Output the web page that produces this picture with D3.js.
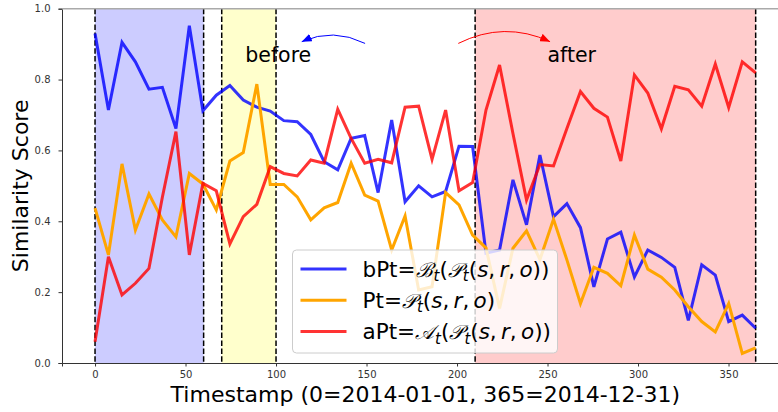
<!DOCTYPE html>
<html>
<head>
<meta charset="utf-8">
<script src="https://cdn.jsdelivr.net/npm/d3@7"></script>
<style>
  body { margin: 0; background: #fff; }
  svg { display: block; font-family: "DejaVu Sans", sans-serif; }
</style>
</head>
<body>
<div id="grafico"></div>
<script>
// 50 snapshots over the year (day index)
const timestamps = [0, 7.4, 14.9, 22.3, 29.8, 37.2, 44.7, 52.1, 59.6, 67.0,
  74.5, 81.9, 89.4, 96.8, 104.3, 111.7, 119.2, 126.6, 134.1, 141.5,
  149.0, 156.4, 163.9, 171.3, 178.8, 186.2, 193.7, 201.1, 208.6, 216.0,
  223.5, 230.9, 238.4, 245.8, 253.3, 260.7, 268.2, 275.6, 283.1, 290.5,
  298.0, 305.4, 312.9, 320.3, 327.8, 335.2, 342.7, 350.1, 357.6, 365];

const bPt = [0.930, 0.714, 0.905, 0.850, 0.773, 0.778, 0.662, 0.952, 0.712, 0.756,
  0.783, 0.742, 0.722, 0.711, 0.684, 0.681, 0.645, 0.568, 0.545, 0.634,
  0.642, 0.481, 0.686, 0.455, 0.500, 0.469, 0.484, 0.612, 0.611, 0.310,
  0.319, 0.517, 0.390, 0.587, 0.413, 0.450, 0.382, 0.215, 0.350, 0.369,
  0.243, 0.319, 0.298, 0.270, 0.120, 0.277, 0.248, 0.117, 0.135, 0.098];

const Pt = [0.437, 0.305, 0.562, 0.375, 0.477, 0.404, 0.356, 0.535, 0.505, 0.432,
  0.570, 0.594, 0.787, 0.504, 0.504, 0.469, 0.404, 0.438, 0.453, 0.564,
  0.474, 0.457, 0.319, 0.415, 0.206, 0.215, 0.481, 0.446, 0.361, 0.325,
  0.154, 0.324, 0.373, 0.292, 0.406, 0.291, 0.168, 0.270, 0.253, 0.218,
  0.361, 0.265, 0.242, 0.206, 0.159, 0.117, 0.088, 0.168, 0.027, 0.043];

const aPt = [0.060, 0.300, 0.192, 0.225, 0.267, 0.468, 0.653, 0.305, 0.507, 0.486,
  0.336, 0.413, 0.448, 0.554, 0.535, 0.528, 0.573, 0.564, 0.716, 0.634,
  0.564, 0.575, 0.565, 0.722, 0.725, 0.575, 0.714, 0.486, 0.509, 0.714,
  0.841, 0.648, 0.460, 0.560, 0.556, 0.662, 0.766, 0.719, 0.694, 0.570,
  0.813, 0.762, 0.661, 0.781, 0.771, 0.725, 0.844, 0.721, 0.850, 0.819];

const spanBlue = [0, 60];
const spanYellow = [70, 100];
const spanRed = [210, 365];
const dashedDays = [0, 60, 70, 100, 210, 365];

const xTicks = [0, 50, 100, 150, 200, 250, 300, 350];
const yTicks = [0.0, 0.2, 0.4, 0.6, 0.8, 1.0];

const width = 778, height = 412;

const svg = d3.select('#grafico')
  .append('svg')
  .attr('width', width)
  .attr('height', height);

const x = d3.scaleLinear().domain([-18.25, 383.25]).range([62, 788.7]);
const y = d3.scaleLinear().domain([0, 1]).range([363, 8.7]);

// fondos sombreados
[[spanBlue, '#ccccff'], [spanYellow, '#ffffcc'], [spanRed, '#ffcccc']].forEach(([s, c]) => {
  svg.append('rect')
    .attr('x', x(s[0]))
    .attr('y', y(1))
    .attr('width', x(s[1]) - x(s[0]))
    .attr('height', y(0) - y(1))
    .attr('fill', c);
});

svg.selectAll('.vline')
  .data(dashedDays)
  .enter().append('line')
  .attr('class', 'vline')
  .attr('x1', d => x(d)).attr('x2', d => x(d))
  .attr('y1', y(1)).attr('y2', y(0))
  .attr('stroke', '#000')
  .attr('stroke-width', 1.5)
  .attr('stroke-dasharray', '5.5,2.4');

// ejes
const xAxis = svg.append('g')
  .attr('transform', `translate(0,${y(0)})`)
  .call(d3.axisBottom(x).tickValues(xTicks).tickSize(3.5).tickPadding(4).tickFormat(d3.format('d')));
const yAxis = svg.append('g')
  .attr('transform', `translate(${x(-18.25)},0)`)
  .call(d3.axisLeft(y).tickValues(yTicks).tickSize(3.5).tickPadding(8).tickFormat(d3.format('.1f')));

[xAxis, yAxis].forEach(g => {
  g.select('.domain').attr('stroke', '#333');
  g.selectAll('.tick line').attr('stroke', '#333');
  g.selectAll('text')
    .attr('fill', '#333')
    .style('font-size', '10px')
    .style('font-family', '"DejaVu Sans", sans-serif');
});
svg.append('line')
  .attr('x1', x(-18.25)).attr('x2', width)
  .attr('y1', y(1)).attr('y2', y(1))
  .attr('stroke', '#aaa').attr('stroke-width', 1.5);

// series
const series = [
  { values: bPt, color: 'rgba(0,0,255,0.8)' },
  { values: Pt, color: '#ffa500' },
  { values: aPt, color: 'rgba(255,0,0,0.8)' }
];
const line = d3.line().x(d => x(d[0])).y(d => y(d[1]));
series.forEach(s => {
  svg.append('path')
    .datum(timestamps.map((t, i) => [t, s.values[i]]))
    .attr('d', line)
    .attr('fill', 'none')
    .attr('stroke', s.color)
    .attr('stroke-width', 3)
    .attr('stroke-linejoin', 'miter');
});

// anotaciones
const defs = svg.append('defs');
['blue', 'red'].forEach(c => {
  defs.append('marker')
    .attr('id', 'head-' + c)
    .attr('markerUnits', 'userSpaceOnUse')
    .attr('viewBox', '0 0 10 8')
    .attr('refX', 10).attr('refY', 4)
    .attr('markerWidth', 10).attr('markerHeight', 8)
    .attr('orient', 'auto')
    .append('path')
    .attr('d', 'M0,0 L10,4 L0,8 Z')
    .attr('fill', c);
});
function arrow(x0, y0, x1, y1, lift, color) {
  const p0 = [x(x0), y(y0)], p1 = [x(x1), y(y1)];
  const c = [(p0[0] + p1[0]) / 2, (p0[1] + p1[1]) / 2 - lift];
  svg.append('path')
    .attr('d', `M${p0[0]},${p0[1]} Q${c[0]},${c[1]} ${p1[0]},${p1[1]}`)
    .attr('fill', 'none')
    .attr('stroke', color)
    .attr('stroke-width', 1)
    .attr('marker-end', `url(#head-${color})`);
}
arrow(149.2, 0.902, 114.2, 0.907, 15, 'blue');
arrow(200.7, 0.902, 251.4, 0.907, 22, 'red');

svg.append('text').attr('x', x(83)).attr('y', y(0.85))
  .style('font-size', '20.5px').text('before');
svg.append('text').attr('x', x(250)).attr('y', y(0.85))
  .style('font-size', '20.5px').text('after');

// titulos de ejes
svg.append('text')
  .attr('x', x(182.5)).attr('y', 401.5)
  .attr('text-anchor', 'middle')
  .style('font-size', '22px')
  .text('Timestamp (0=2014-01-01, 365=2014-12-31)');
svg.append('text')
  .attr('transform', `translate(28,${y(0.5)}) rotate(-90)`)
  .attr('text-anchor', 'middle')
  .style('font-size', '22px')
  .text('Similarity Score');

// leyenda
const legend = svg.append('g').attr('transform', 'translate(292.5,250)');
legend.append('rect')
  .attr('width', 265).attr('height', 103).attr('rx', 4)
  .attr('fill', 'rgba(255,255,255,0.8)')
  .attr('stroke', '#ccc').attr('stroke-width', 1);

const cal = c => ({ t: c, f: '"DejaVu Serif", serif', it: true, small: true });
const sub = { t: 't', sub: true };
const args = [{ t: 's', it: true }, { t: ',\u2009' }, { t: 'r', it: true }, { t: ',\u2009' }, { t: 'o', it: true }];
const legendItems = [
  { color: 'rgba(0,0,255,0.8)', parts: [{ t: 'bPt=' }, cal('ℬ'), sub, { t: '(' }, cal('𝒫'), sub, { t: '(' }, ...args, { t: '))' }] },
  { color: '#ffa500', parts: [{ t: 'Pt=' }, cal('𝒫'), sub, { t: '(' }, ...args, { t: ')' }] },
  { color: 'rgba(255,0,0,0.8)', parts: [{ t: 'aPt=' }, cal('𝒜'), sub, { t: '(' }, cal('𝒫'), sub, { t: '(' }, ...args, { t: '))' }] }
];
legendItems.forEach((item, i) => {
  const cy = 19 + i * 31.3;
  legend.append('line')
    .attr('x1', 8).attr('x2', 54).attr('y1', cy).attr('y2', cy)
    .attr('stroke', item.color).attr('stroke-width', 3);
  const txt = legend.append('text')
    .attr('x', 70).attr('y', cy + 7.5)
    .style('font-size', '21.5px');
  let shifted = false;
  item.parts.forEach(p => {
    const ts = txt.append('tspan').text(p.t);
    if (p.it) ts.style('font-style', 'italic');
    if (p.f) ts.style('font-family', p.f);
    if (p.small) ts.style('font-size', '20px');
    if (p.sub) { ts.attr('dy', 4.5).attr('dx', 1).style('font-size', '15px').style('font-style', 'italic'); shifted = true; }
    else if (shifted) { ts.attr('dy', -4.5); shifted = false; }
  });
});
</script>
</body>
</html>
